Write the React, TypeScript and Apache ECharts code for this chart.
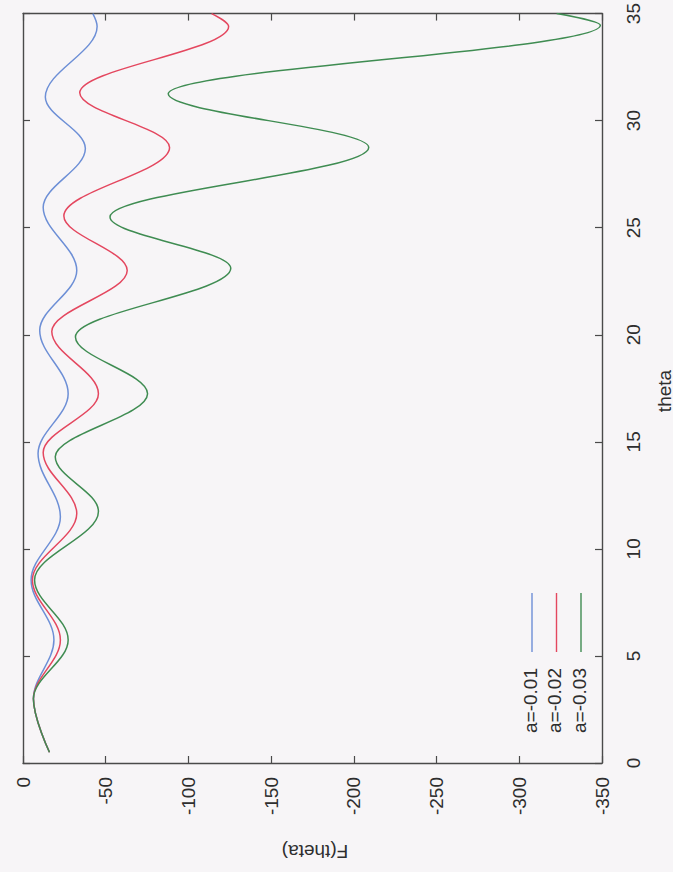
import React, { useEffect, useRef } from "react";
import * as echarts from "echarts";

// Turning points of each curve: theta (vertical axis in the picture) and F(theta)
const thetaA1 = [0.5, 3.0, 5.75, 8.55, 11.5, 14.45, 17.25, 20.2, 23.0, 25.95, 28.7, 31.1, 34.4, 35.0];
const fA1 = [-16, -6.3, -18.7, -4.9, -22.6, -9.1, -27.3, -10.1, -32.5, -12.2, -37.7, -13.5, -44.8, -42.2];

const thetaA2 = [0.5, 3.0, 5.75, 8.55, 11.65, 14.5, 17.25, 20.15, 23.0, 25.55, 28.75, 31.3, 34.4, 35.0];
const fA2 = [-16, -6.3, -22.6, -5.7, -32.5, -12.2, -45.6, -17.4, -63, -24.7, -88.6, -34.3, -124.3, -114];

const thetaA3 = [0.5, 3.0, 5.75, 8.55, 11.75, 14.3, 17.25, 19.9, 23.1, 25.5, 28.75, 31.25, 34.45, 35.0];
const fA3 = [-16, -6.3, -27.3, -7, -45.6, -19.5, -75.3, -31.7, -125.6, -52.6, -209, -87.8, -349, -322.6];

const seriesNames = ["a=-0.01", "a=-0.02", "a=-0.03"];
const seriesColors = ["#6d8fd6", "#e4475f", "#3f8c52"];

const FONT = '"Liberation Sans", Arial, sans-serif';

export default function App() {
  const ref = useRef<HTMLDivElement>(null);
  useEffect(() => {
    const chart = echarts.init(ref.current!, null, { renderer: "svg" });
    const pairs = (t: number[], f: number[]) => t.map((v, i) => [f[i], v]);
    const datasets = [pairs(thetaA1, fA1), pairs(thetaA2, fA2), pairs(thetaA3, fA3)];
    const axisLine = { show: true, onZero: false, lineStyle: { color: "#4a4a4a", width: 1.4 } };
    const tick = { show: true, inside: true, length: 7, lineStyle: { color: "#4a4a4a", width: 1.2 } };
    const labelStyle = { color: "#2e2e2e", fontSize: 19, fontFamily: FONT };
    const legendX = [530, 554.5, 579];
    const graphic: any[] = [
      {
        type: "text",
        x: 664,
        y: 391,
        rotation: Math.PI / 2,
        style: { text: "theta", font: `19px ${FONT}`, fill: "#2e2e2e", textAlign: "center", textVerticalAlign: "middle" },
      },
      {
        type: "text",
        x: 315,
        y: 851,
        rotation: Math.PI,
        style: { text: "F(theta)", font: `19px ${FONT}`, fill: "#2e2e2e", textAlign: "center", textVerticalAlign: "middle" },
      },
    ];
    seriesNames.forEach((n, i) => {
      graphic.push({
        type: "text",
        x: legendX[i],
        y: 668,
        rotation: Math.PI / 2,
        style: { text: n, font: `19px ${FONT}`, fill: "#2e2e2e", textAlign: "right", textVerticalAlign: "middle" },
      });
      graphic.push({
        type: "line",
        shape: { x1: legendX[i] + 2, y1: 593, x2: legendX[i] + 2, y2: 652 },
        style: { stroke: seriesColors[i], lineWidth: 1.4 },
      });
    });

    const fAxis = (pos: string, labels: boolean) => ({
      type: "value",
      position: pos,
      min: -350,
      max: 0,
      interval: 50,
      inverse: true,
      axisLine,
      axisTick: tick,
      splitLine: { show: false },
      axisLabel: labels
        ? { ...labelStyle, rotate: 90, margin: 14, showMinLabel: true, showMaxLabel: true }
        : { show: false },
    });
    const thetaAxis = (pos: string, labels: boolean) => ({
      type: "value",
      position: pos,
      min: 0,
      max: 35,
      interval: 5,
      axisLine,
      axisTick: tick,
      splitLine: { show: false },
      axisLabel: labels
        ? { ...labelStyle, rotate: 90, margin: 22, showMinLabel: true, showMaxLabel: true }
        : { show: false },
    });

    chart.setOption({
      animation: false,
      backgroundColor: "#f7f5f7",
      grid: { left: 23, right: 71, top: 13, bottom: 109, containLabel: false },
      xAxis: [fAxis("bottom", true), fAxis("top", false)],
      yAxis: [thetaAxis("right", true), thetaAxis("left", false)],
      series: datasets.map((d, i) => ({
        name: seriesNames[i],
        type: "line",
        xAxisIndex: 0,
        yAxisIndex: 0,
        data: d,
        smooth: 0.36,
        smoothMonotone: "y",
        showSymbol: false,
        lineStyle: { color: seriesColors[i], width: 1.5 },
        itemStyle: { color: seriesColors[i] },
      })),
      graphic,
    });
    return () => chart.dispose();
  }, []);
  return (
    <div
      ref={ref}
      style={{ position: "absolute", left: 0, top: 0, width: 673, height: 872, background: "#f7f5f7" }}
    />
  );
}
